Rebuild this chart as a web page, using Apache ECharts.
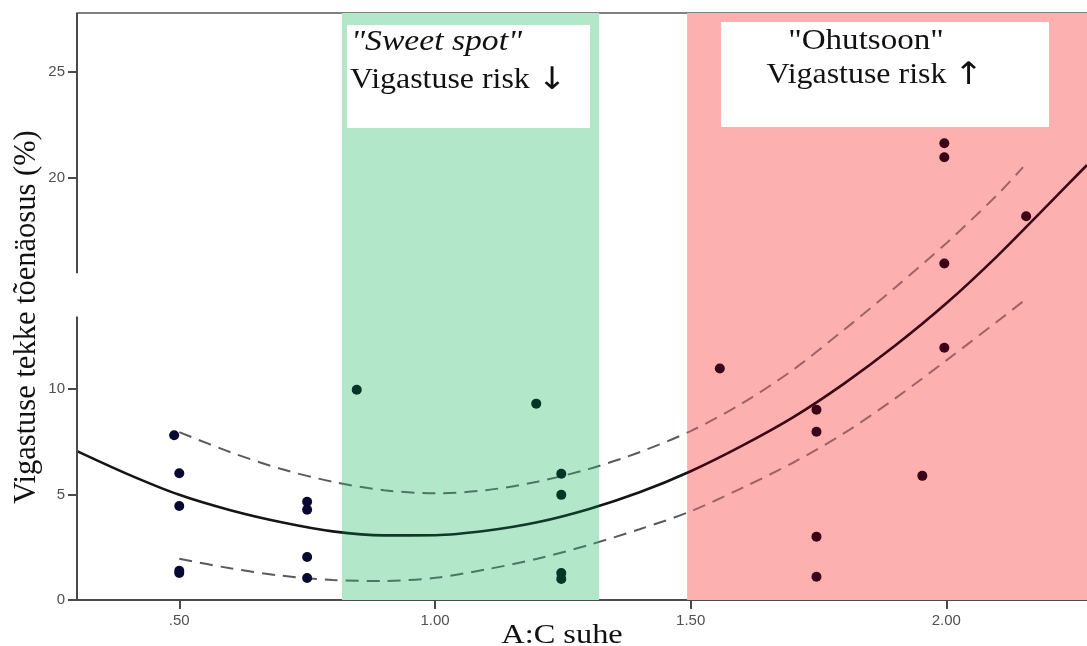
<!DOCTYPE html>
<html>
<head>
<meta charset="utf-8">
<script src="https://cdn.jsdelivr.net/npm/echarts@6/dist/echarts.min.js"></script>
<style>
html,body{margin:0;padding:0;background:#fff;}
#chart{width:1087px;height:646px;}
</style>
</head>
<body>
<div id="chart"></div>
<script>
// ---- axes ----
const xMin = 0.3, xMax = 2.275;
const yMin = 0, yMax = 27.8;
const xTickValues = [0.5, 1.0, 1.5, 2.0];
const xTickLabels = ['.50', '1.00', '1.50', '2.00'];
const yTickValues = [0, 5, 10, 20, 25];
const yTickLabels = ['0', '5', '10', '20', '25'];
const axisBreak = [13.43, 15.47];

// ---- zones ----
const sweetSpot = [0.818, 1.321];
const dangerZone = [1.493, 2.275];

// ---- observed points ----
const pointsX = [0.49, 0.5, 0.5, 0.5, 0.5,
                 0.75, 0.75, 0.75, 0.75,
                 0.847, 1.198,
                 1.247, 1.247, 1.247, 1.247,
                 1.557,
                 1.746, 1.746, 1.746, 1.746,
                 1.953,
                 1.996, 1.996, 1.996, 1.996,
                 2.156];
const pointsY = [7.8, 6.0, 4.45, 1.28, 1.38,
                 4.65, 4.27, 2.04, 1.04,
                 9.96, 9.3,
                 5.98, 4.98, 1.28, 1.0,
                 10.96,
                 9.01, 7.97, 3.0, 1.1,
                 5.88,
                 21.63, 20.97, 15.94, 11.95,
                 18.17];

// ---- fitted curve and confidence band ----
const fitX = [0.3, 0.4, 0.5, 0.6, 0.7, 0.8, 0.9, 1.0, 1.1, 1.2, 1.3, 1.4, 1.5, 1.6, 1.7, 1.8, 1.9, 2.0, 2.1, 2.2, 2.275];
const fitY = [7.05, 5.95, 4.98, 4.25, 3.68, 3.25, 3.06, 3.07, 3.28, 3.68, 4.3, 5.1, 6.1, 7.3, 8.65, 10.25, 12.05, 14.05, 16.3, 18.75, 20.6];
const upperX = [0.5, 0.6, 0.7, 0.8, 0.9, 1.0, 1.1, 1.2, 1.3, 1.4, 1.5, 1.6, 1.7, 1.8, 1.9, 2.0, 2.1, 2.15];
const upperY = [7.95, 7.0, 6.2, 5.6, 5.2, 5.05, 5.2, 5.6, 6.2, 7.0, 8.0, 9.3, 10.9, 12.8, 14.8, 16.9, 19.2, 20.5];
const lowerX = [0.5, 0.6, 0.7, 0.8, 0.9, 1.0, 1.1, 1.2, 1.3, 1.4, 1.5, 1.6, 1.7, 1.8, 1.9, 2.0, 2.1, 2.15];
const lowerY = [1.95, 1.5, 1.15, 0.95, 0.9, 1.05, 1.45, 1.95, 2.6, 3.35, 4.2, 5.3, 6.5, 7.9, 9.55, 11.35, 13.2, 14.14];

const zip = (xs, ys) => xs.map((x, i) => [x, ys[i]]);

const serifFont = '"Liberation Serif", "Times New Roman", serif';
const sansFont = '"Liberation Sans", Arial, sans-serif';

function regionPieces(base, green, red) {
  return [
    {lt: sweetSpot[0], color: base},
    {gte: sweetSpot[0], lt: sweetSpot[1], color: green},
    {gte: sweetSpot[1], lt: dangerZone[0], color: base},
    {gte: dangerZone[0], color: red}
  ];
}
function pointColor(x) {
  if (x >= sweetSpot[0] && x <= sweetSpot[1]) return '#053526';
  if (x >= dangerZone[0]) return '#3c0316';
  return '#080830';
}

const arrowRich = {arr: {fontFamily: '"DejaVu Sans", sans-serif', fontSize: 31, fontWeight: 'normal', fill: '#111'}};

const chart = echarts.init(document.getElementById('chart'), null, {renderer: 'canvas'});
const option = {
  animation: false,
  backgroundColor: '#ffffff',
  grid: {left: 77, right: 0, top: 13, bottom: 46, containLabel: false},
  xAxis: [{
    type: 'value', min: xMin, max: xMax,
    axisLine: {show: true, onZero: false, lineStyle: {color: '#4a4a4a', width: 2}},
    axisTick: {show: true, length: 9, customValues: xTickValues, lineStyle: {color: '#4a4a4a', width: 2}},
    axisLabel: {
      customValues: xTickValues, margin: 13, fontSize: 15, fontFamily: sansFont, color: '#505050',
      formatter: v => { const i = xTickValues.findIndex(t => Math.abs(t - v) < 1e-6); return i >= 0 ? xTickLabels[i] : ''; }
    },
    splitLine: {show: false}
  }, {
    type: 'value', min: xMin, max: xMax, position: 'top',
    axisLine: {show: true, onZero: false, lineStyle: {color: '#808080', width: 2}},
    axisTick: {show: false}, axisLabel: {show: false}, splitLine: {show: false}
  }],
  yAxis: {
    type: 'value', min: yMin, max: yMax,
    axisLine: {show: false},
    axisTick: {show: true, length: 9, customValues: yTickValues, lineStyle: {color: '#4a4a4a', width: 2}},
    axisLabel: {
      customValues: yTickValues, margin: 12, fontSize: 15, fontFamily: sansFont, color: '#505050',
      formatter: v => { const i = yTickValues.findIndex(t => Math.abs(t - v) < 1e-6); return i >= 0 ? yTickLabels[i] : ''; }
    },
    splitLine: {show: false}
  },
  visualMap: [
    {type: 'piecewise', show: false, seriesIndex: 1, dimension: 0, pieces: regionPieces('#151515', '#0f3a28', '#3c0712')},
    {type: 'piecewise', show: false, seriesIndex: 2, dimension: 0, pieces: regionPieces('#5a5a5a', '#4d7565', '#a06266')},
    {type: 'piecewise', show: false, seriesIndex: 3, dimension: 0, pieces: regionPieces('#5a5a5a', '#4d7565', '#a06266')}
  ],
  series: [
    {
      type: 'line', data: [], z: 1, silent: true,
      markArea: {
        silent: true,
        data: [
          [{xAxis: sweetSpot[0], itemStyle: {color: '#b2e8c9', opacity: 1}}, {xAxis: sweetSpot[1]}],
          [{xAxis: dangerZone[0], itemStyle: {color: '#fdb0b0', opacity: 1}}, {xAxis: dangerZone[1]}]
        ]
      }
    },
    {type: 'line', data: zip(fitX, fitY), smooth: 0.3, showSymbol: false, z: 3, silent: true,
     lineStyle: {width: 2.6}},
    {type: 'line', data: zip(upperX, upperY), smooth: 0.3, showSymbol: false, z: 3, silent: true,
     lineStyle: {width: 2, type: [13, 8]}},
    {type: 'line', data: zip(lowerX, lowerY), smooth: 0.3, showSymbol: false, z: 3, silent: true,
     lineStyle: {width: 2, type: [13, 8]}},
    {type: 'scatter', data: zip(pointsX, pointsY), symbolSize: 10, z: 4, silent: true,
     itemStyle: {opacity: 1, color: p => pointColor(p.value[0])}},
    {type: 'line', data: [[xMin, yMin], [xMin, axisBreak[0]]], showSymbol: false, clip: false, z: 5, silent: true,
     lineStyle: {color: '#4a4a4a', width: 2}},
    {type: 'line', data: [[xMin, axisBreak[1]], [xMin, yMax]], showSymbol: false, clip: false, z: 5, silent: true,
     lineStyle: {color: '#4a4a4a', width: 2}}
  ],
  graphic: [
    {type: 'rect', z: 100, shape: {x: 347, y: 25, width: 243, height: 103}, style: {fill: '#ffffff'}},
    {type: 'rect', z: 100, shape: {x: 721, y: 22, width: 328, height: 105}, style: {fill: '#ffffff'}},
    {type: 'text', z: 101, x: 351, y: 43, scaleX: 1.18,
     style: {text: '"Sweet spot"', fontSize: 28.5, fontStyle: 'italic', fontFamily: serifFont, fill: '#111',
             align: 'left', verticalAlign: 'middle', textAlign: 'left', textVerticalAlign: 'middle'}},
    {type: 'text', z: 101, x: 350, y: 81, scaleX: 1.12,
     style: {text: 'Vigastuse risk {arr|↓}', rich: arrowRich, fontSize: 28.5, fontFamily: serifFont, fill: '#111',
             align: 'left', verticalAlign: 'middle', textAlign: 'left', textVerticalAlign: 'middle'}},
    {type: 'text', z: 101, x: 866, y: 42, scaleX: 1.16,
     style: {text: '"Ohutsoon"', fontSize: 28.5, fontFamily: serifFont, fill: '#111',
             align: 'center', verticalAlign: 'middle', textAlign: 'center', textVerticalAlign: 'middle'}},
    {type: 'text', z: 101, x: 875, y: 76, scaleX: 1.12,
     style: {text: 'Vigastuse risk {arr|↑}', rich: arrowRich, fontSize: 28.5, fontFamily: serifFont, fill: '#111',
             align: 'center', verticalAlign: 'middle', textAlign: 'center', textVerticalAlign: 'middle'}},
    {type: 'text', z: 101, x: 562, y: 636, scaleX: 1.2,
     style: {text: 'A:C suhe', fontSize: 27, fontFamily: serifFont, fill: '#111',
             align: 'center', verticalAlign: 'middle', textAlign: 'center', textVerticalAlign: 'middle'}},
    {type: 'text', z: 101, x: 27, y: 317, rotation: Math.PI / 2,
     style: {text: 'Vigastuse tekke tõenäosus (%)', fontSize: 30.5, fontFamily: serifFont, fill: '#111',
             align: 'center', verticalAlign: 'middle', textAlign: 'center', textVerticalAlign: 'middle'}}
  ]
};
chart.setOption(option);
</script>
</body>
</html>
